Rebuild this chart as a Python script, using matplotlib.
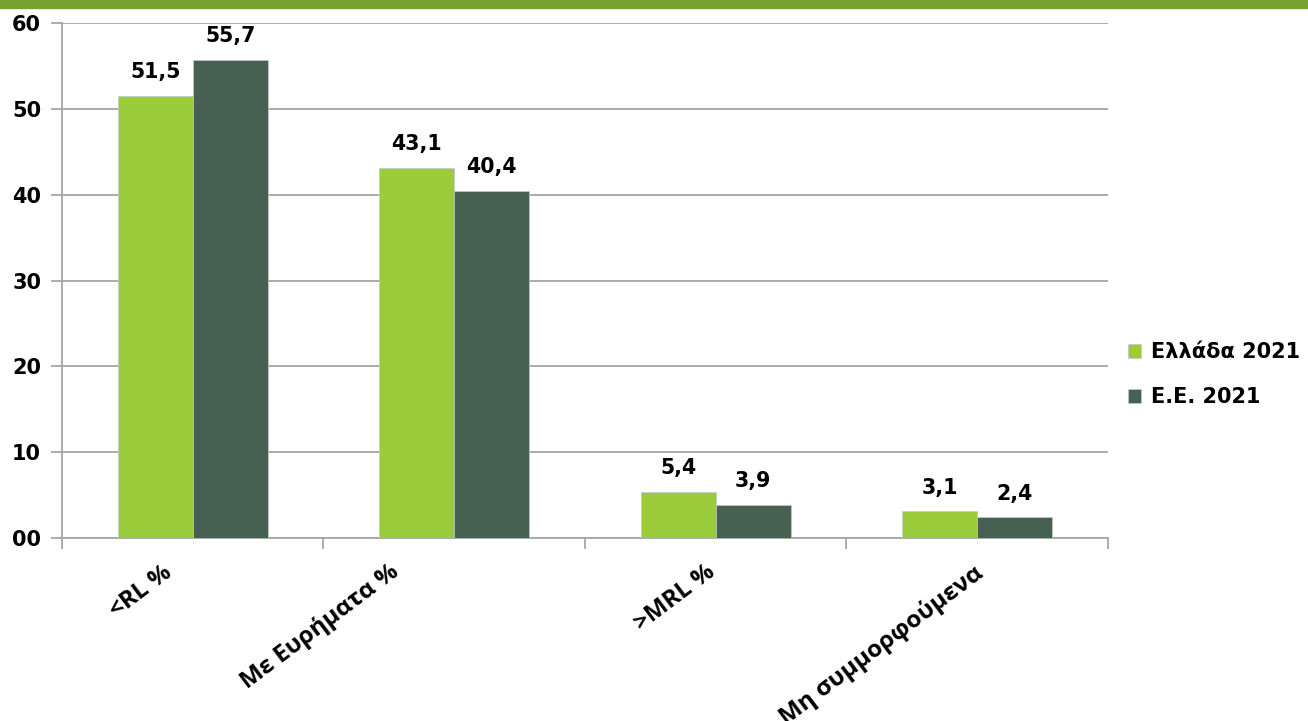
import numpy as np
import matplotlib
matplotlib.use('Agg')
import matplotlib.pyplot as plt
from matplotlib.ticker import FuncFormatter, FixedLocator
from matplotlib.patches import Rectangle
from matplotlib.transforms import ScaledTranslation

plt.rcParams["font.family"] = ["DejaVu Sans"]

categories = ["<RL %", "Με Ευρήματα %", ">MRL %", "Μη συμμορφούμενα"]
greece_2021 = [51.5, 43.1, 5.4, 3.1]
eu_2021 = [55.7, 40.4, 3.9, 2.4]
series_names = ["Ελλάδα 2021", "Ε.Ε. 2021"]

light_green = "#9acb3a"
dark_green = "#466152"
grid_grey = "#a6a6a6"

fig = plt.figure(figsize=(13.08, 7.21), dpi=100)
ax = fig.add_axes([0.0474, 0.2538, 0.7996, 0.7142])

# top band
fig.patches.append(Rectangle((0, 0.989), 1, 0.011, transform=fig.transFigure,
                             color="#77a22d", zorder=0))

x = np.arange(len(categories))
w = 0.287
b1 = ax.bar(x - w / 2, greece_2021, w, color=light_green, label=series_names[0],
            edgecolor="#c8c8c8", linewidth=0.5, zorder=3)
b2 = ax.bar(x + w / 2, eu_2021, w, color=dark_green, label=series_names[1],
            edgecolor="#c8c8c8", linewidth=0.5, zorder=3)

for bars in (b1, b2):
    for r in bars:
        h = r.get_height()
        ax.annotate(f"{h:.1f}".replace(".", ","), (r.get_x() + r.get_width() / 2, h),
                    xytext=(0, 10), textcoords="offset points", ha="center", va="bottom",
                    fontsize=14.8, fontweight="bold")

ax.set_xlim(-0.5, len(categories) - 0.5)
ax.set_ylim(0, 60)
ax.set_yticks(np.arange(0, 61, 10))
ax.yaxis.set_major_formatter(FuncFormatter(lambda v, pos: f"{v:02.0f}"))
ax.yaxis.grid(True, color=grid_grey, linewidth=1.3, zorder=0)
ax.set_axisbelow(True)

# category boundary ticks on x
ax.xaxis.set_major_locator(FixedLocator(np.arange(-0.5, len(categories), 1)))
ax.xaxis.set_major_formatter(FuncFormatter(lambda v, pos: ""))
ax.xaxis.set_minor_locator(FixedLocator(x))
ax.set_xticklabels(categories, minor=True, rotation=37, ha="right", va="top",
                   rotation_mode="anchor", fontsize=17.5, fontweight="bold",
                   family=["Open Sans", "DejaVu Sans"])
ax.tick_params(axis="x", which="minor", length=0, pad=16)
ax.tick_params(axis="x", which="major", length=8, color=grid_grey, width=1.3)
ax.tick_params(axis="y", length=8, color=grid_grey, width=1.3, labelsize=15, pad=7)
for lab in ax.get_yticklabels():
    lab.set_fontweight("bold")

# horizontal shifts of the rotated labels (pixels)
label_shift = [-31, -65, -10, -4]
for lab, dx in zip(ax.get_xticklabels(minor=True), label_shift):
    lab.set_transform(lab.get_transform() + ScaledTranslation(dx / 100, 0, fig.dpi_scale_trans))

for s in ["top", "right"]:
    ax.spines[s].set_visible(False)
for s in ["left", "bottom"]:
    ax.spines[s].set_color(grid_grey)
    ax.spines[s].set_linewidth(1.3)

leg = ax.legend(loc="center left", bbox_to_anchor=(1.009, 0.317), frameon=False,
                prop={"size": 15, "weight": "bold"}, handlelength=0.65, handleheight=0.65,
                handletextpad=0.45, labelspacing=1.2, borderpad=0)

fig.savefig("out.png", dpi=100)
